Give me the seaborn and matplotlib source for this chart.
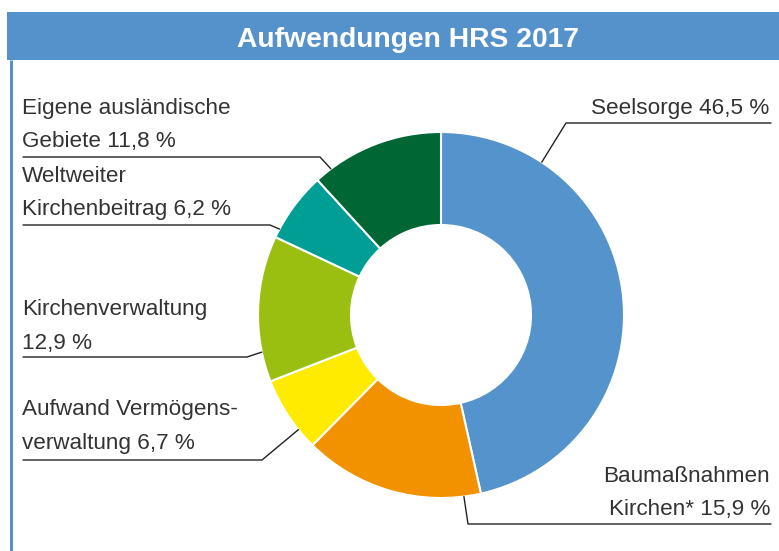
import numpy as np
import matplotlib.pyplot as plt
import matplotlib.patches as mpatches
import seaborn as sns

# chart data
categories = ['Seelsorge', 'Baumaßnahmen Kirchen*', 'Aufwand Vermögensverwaltung',
              'Kirchenverwaltung', 'Weltweiter Kirchenbeitrag',
              'Eigene ausländische Gebiete']
values = [46.5, 15.9, 6.7, 12.9, 6.2, 11.8]
label_lines = [
    ['Seelsorge 46,5 %'],
    ['Baumaßnahmen', 'Kirchen* 15,9 %'],
    ['Aufwand Vermögens-', 'verwaltung 6,7 %'],
    ['Kirchenverwaltung', '12,9 %'],
    ['Weltweiter', 'Kirchenbeitrag 6,2 %'],
    ['Eigene ausländische', 'Gebiete 11,8 %'],
]
title = 'Aufwendungen HRS 2017'
colors = ['#5593cc', '#f39200', '#ffeb00', '#9bbf10', '#009e94', '#006633']

sns.set_theme(style='white')
plt.rcParams['font.family'] = ['Liberation Sans', 'DejaVu Sans']

W, H = 779, 551
fig = plt.figure(figsize=(W / 100, H / 100), dpi=100)
ax = fig.add_axes([0, 0, 1, 1])

# donut, pixel coordinates with y going down
cx, cy, r_out, r_in = 441, 315, 183, 90
ax.pie(values, colors=colors, startangle=-90, counterclock=True,
       center=(cx, cy), radius=r_out, frame=True,
       wedgeprops=dict(width=r_out - r_in, edgecolor='white', linewidth=1.5))
ax.set_xlim(0, W)
ax.set_ylim(H, 0)
ax.set_axis_off()

# header bar and frame line
ax.add_patch(mpatches.Rectangle((7, 12), W - 7, 48, facecolor='#5592cb',
                                edgecolor='none', clip_on=False))
ax.text(408.5, 47, title, color='white', fontsize=20.3, fontweight='bold',
        ha='center', va='baseline')
ax.plot([11.5, 11.5], [60, H], color='#5592cb', lw=2.2, solid_capstyle='butt')

# label layout: (text x, align, first baseline, underline y, line x start,
#                line x end at the bend, anchor angle clockwise from top)
layout = [
    (769, 'right', 114, 123, 771, 566, 33.4),
    (770, 'right', 482, 524, 771, 468, 172.8),
    (22, 'left', 415, 460, 23, 262, 231.2),
    (22, 'left', 315, 357, 23, 247, 258.3),
    (22, 'left', 182, 225, 23, 270, 298.0),
    (22, 'left', 114, 157, 23, 320, 323.0),
]
txt_color = '#333333'
for lines, (tx, ha, base, uy, x0, x1, ang) in zip(label_lines, layout):
    for i, line in enumerate(lines):
        ax.text(tx, base + i * 33.5, line, ha=ha, va='baseline',
                fontsize=16.2, color=txt_color)
    a = np.deg2rad(ang)
    px = cx + r_out * np.sin(a)
    py = cy - r_out * np.cos(a)
    ax.plot([x0, x1, px], [uy, uy, py], color='#222222', lw=1.0)

fig.savefig('out.png', dpi=100, facecolor='white')
